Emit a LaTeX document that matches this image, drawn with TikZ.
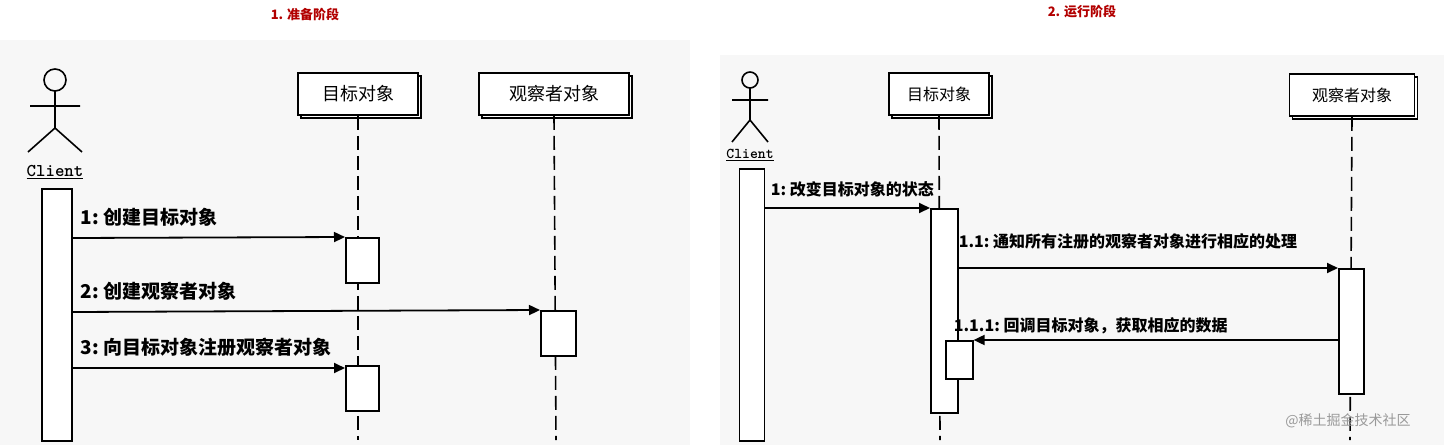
\documentclass[tikz,border=0pt]{standalone}
\usepackage{fontspec}
\setmainfont{DejaVu Sans}
\newfontfamily\cjk{Noto Sans CJK SC}
\usetikzlibrary{positioning,arrows.meta,shadows}
\tikzset{
  double copy shadow/.style={copy shadow={shadow xshift=3pt, shadow yshift=-3pt}},
  obj/.style={draw, fill=white, minimum height=42pt, inner sep=2pt, font=\cjk\fontsize{18}{18}\selectfont, double copy shadow},
  act/.style={draw, fill=white},
  life/.style={dash pattern=on 14pt off 6pt},
  msg/.style={-{Triangle[length=11pt,width=10pt]}, line width=1.8pt},
  lbl/.style={anchor=west, font=\cjk\bfseries\fontsize{19}{19}\selectfont, inner sep=0pt},
  lbls/.style={lbl, font=\cjk\bfseries\fontsize{16}{16}\selectfont},
  title/.style={font=\cjk\bfseries\fontsize{13}{13}\selectfont, text=red!70!black},
}
\begin{document}
\begin{tikzpicture}[x=1pt,y=-1pt, line width=1.6pt]
\useasboundingbox (0,0) rectangle (1444,445);
\fill[gray!6] (0,40) rectangle (690,445);
\fill[gray!6] (720,55) rectangle (1444,445);

%% titles
\node[title] (t1) at (305,14) {1. 准备阶段};
\node[title] (t2) at (1082,12) {2. 运行阶段};

%% left: preparation
\draw (55,80) circle (11);
\draw (55,91) -- (55,128) (30,106) -- (80,106) (55,128) -- (28,152) (55,128) -- (82,152);
\node[font=\ttfamily\bfseries\fontsize{18}{18}\selectfont] (client1) at (55,172) {\underline{Client}};
\node[act, minimum width=30pt, minimum height=252pt, inner sep=0pt, anchor=north] (cl1) at (57,188) {};

\node[obj, minimum width=120pt] (subj1) at (358,94) {目标对象};
\node[obj, minimum width=150pt] (obs1) at (554,94) {观察者对象};
\draw[life] (subj1.south) -- (358,440);
\draw[life] (obs1.south) -- (556,440);
\node[act, minimum width=33pt, minimum height=45pt, anchor=north west] (a1) at (345,237) {};
\node[act, minimum width=35pt, minimum height=45pt, anchor=north west] (a2) at (540,310) {};
\node[act, minimum width=33pt, minimum height=45pt, anchor=north west] (a3) at (345,365) {};

\draw[msg] (72,238) -- (a1.north west);
\draw[msg] (72,312) -- (a2.north west);
\draw[msg] (72,368) -- ([yshift=-3pt]a3.north west);
\node[lbl] (m1) at (80,217) {1:\ 创建目标对象};
\node[lbl] (m2) at (80,291) {2:\ 创建观察者对象};
\node[lbl] (m3) at (80,347) {3:\ 向目标对象注册观察者对象};

%% right: running
\draw (750,80) circle (8);
\draw (750,88) -- (750,120) (732,100) -- (768,100) (750,120) -- (732,142) (750,120) -- (768,142);
\node[font=\ttfamily\bfseries\fontsize{15}{15}\selectfont] (client2) at (750,155) {\underline{Client}};
\node[act, minimum width=25pt, minimum height=272pt, inner sep=0pt, anchor=north] (cl2) at (752,168) {};

\node[obj, minimum width=100pt, font=\cjk\fontsize{16}{16}\selectfont] (subj2) at (939,94) {目标对象};
\node[obj, minimum width=125pt, font=\cjk\fontsize{16}{16}\selectfont] (obs2) at (1352,95) {观察者对象};
\draw[life] (subj2.south) -- (940,440);
\draw[life] (obs2.south) -- (1350,440);
\node[act, minimum width=27pt, minimum height=204pt, inner sep=0pt, anchor=north west] (b1) at (930,208) {};
\node[act, minimum width=25pt, minimum height=125pt, inner sep=0pt, anchor=north west] (b2) at (1338,268) {};
\node[act, minimum width=27pt, minimum height=38pt, inner sep=0pt, anchor=north west] (b3) at (945,340) {};

\draw[msg] (765,208) -- (b1.north west);
\draw[msg] (b1.east |- b2.north) -- (b2.north west);
\draw[msg] (b2.west |- b3.north) -- (b3.north east);
\node[lbls] (n1) at (770,189) {1:\ 改变目标对象的状态};
\node[lbls] (n2) at (958,241) {1.1:\ 通知所有注册的观察者对象进行相应的处理};
\node[lbls] (n3) at (953,326) {1.1.1:\ 回调目标对象，获取相应的数据};

\node[font=\cjk\fontsize{14}{14}\selectfont, text=gray!80] (wm) at (1348,421) {@稀土掘金技术社区};
\end{tikzpicture}
\end{document}
